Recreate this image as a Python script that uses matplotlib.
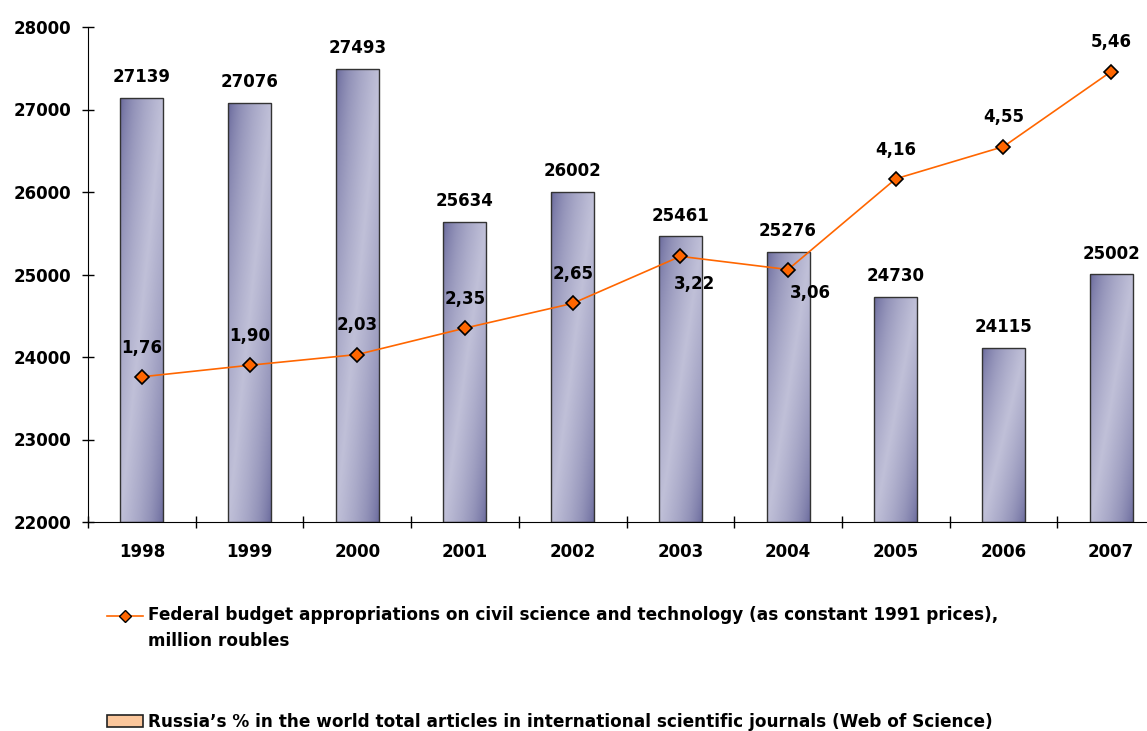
import numpy as np
import matplotlib
matplotlib.use("Agg")
import matplotlib.pyplot as plt
from matplotlib.lines import Line2D
from matplotlib.patches import Patch
from matplotlib.legend_handler import HandlerLine2D
from matplotlib.transforms import Affine2D

years = ["1998", "1999", "2000", "2001", "2002", "2003", "2004", "2005", "2006", "2007"]
budget = [27139, 27076, 27493, 25634, 26002, 25461, 25276, 24730, 24115, 25002]
share = [1.76, 1.90, 2.03, 2.35, 2.65, 3.22, 3.06, 4.16, 4.55, 5.46]
yticks = [22000, 23000, 24000, 25000, 26000, 27000, 28000]

line_label = ("Federal budget appropriations on civil science and technology (as constant 1991 prices),\n"
              "million roubles")
bar_label = "Russia\u2019s % in the world total articles in international scientific journals (Web of Science)"

plt.rcParams["font.family"] = ["DejaVu Sans"]
plt.rcParams["font.weight"] = "bold"

W, H = 1147, 731
fig = plt.figure(figsize=(W / 100, H / 100), dpi=100)
ax = fig.add_axes([88 / W, 1 - 522 / H, 1077 / W, 495 / H])

x = np.arange(len(years))
bw = 0.40
ymin, ymax = 22000, 28000

# diagonal gradient for bars: dark corners, light band along anti-diagonal
dark = np.array([0x5e, 0x5e, 0x94]) / 255
light = np.array([0xc0, 0xc0, 0xd8]) / 255
nr, nc = 200, 40
u = np.linspace(0, 1, nc)[None, :]
v = np.linspace(0, 1, nr)[:, None]
t = (u + v) / 2
f = (1 - np.abs(2 * t - 1)) ** 0.55
grad = dark + (light - dark) * f[..., None]

bars = ax.bar(x, [b - ymin for b in budget], bw, bottom=ymin,
              facecolor="none", edgecolor="#333333", linewidth=1, zorder=3)
for xi, b, bar in zip(x, budget, bars):
    im = ax.imshow(grad, extent=(xi - bw / 2, xi + bw / 2, ymin, b),
                   aspect="auto", origin="upper", zorder=2)
    im.set_clip_path(bar)
    ax.annotate(str(b), (xi, b), xytext=(0, 15), textcoords="offset points",
                ha="center", va="center", fontsize=12, fontweight="bold")

ax.set_xlim(-0.5, 9.5)
ax.set_ylim(ymin, ymax)
ax.set_yticks(yticks)
ax.set_yticklabels([str(t) for t in yticks])
ax.set_xticks(x)
ax.set_xticklabels(years)
ax.set_xticks(np.arange(-0.5, 10, 1), minor=True)
ax.tick_params(axis="x", which="major", length=0, pad=15, labelsize=12)
ax.tick_params(axis="x", which="minor", direction="inout", length=8, width=1)
ax.tick_params(axis="y", direction="inout", length=8, width=1, pad=8, labelsize=12)
for lab in ax.get_xticklabels() + ax.get_yticklabels():
    lab.set_fontweight("bold")
for s in ["top", "right"]:
    ax.spines[s].set_visible(False)

ax2 = ax.twinx()
ax2.set_ylim(0, 6)
ax2.set_axis_off()
ax2.plot(x, share, color="#ff6600", linewidth=1.2, marker="D", markersize=7,
         markerfacecolor="#ff6600", markeredgecolor="black", markeredgewidth=1.2, zorder=5)
offsets = {5: (10, -20), 6: (16, -17)}
for i, (xi, s) in enumerate(zip(x, share)):
    dx, dy = offsets.get(i, (0, 21))
    ax2.annotate(f"{s:.2f}".replace(".", ","), (xi, s), xytext=(dx, dy),
                 textcoords="offset points", ha="center", va="center",
                 fontsize=12, fontweight="bold")


class FirstLineHandler(HandlerLine2D):
    # put the handle beside the first line of a two-line label
    def create_artists(self, legend, orig_handle, xdescent, ydescent, width, height,
                       fontsize, trans):
        shifted = Affine2D().translate(0, 9.5) + trans
        return super().create_artists(legend, orig_handle, xdescent, ydescent, width,
                                      height, fontsize, shifted)


fs_leg = 12.2
h1 = Line2D([], [], color="#ff6600", linewidth=1.2, marker="D", markersize=6,
            markerfacecolor="#ff6600", markeredgecolor="black", markeredgewidth=1)
leg1 = fig.legend([h1], [line_label], loc="upper left", bbox_to_anchor=(107 / W, 1 - 606 / H),
                  frameon=False, borderpad=0, borderaxespad=0, handlelength=2.13,
                  handletextpad=0.3, prop={"size": fs_leg, "weight": "bold"},
                  handler_map={Line2D: FirstLineHandler()})
leg1.get_texts()[0].set_linespacing(1.55)
h2 = Patch(facecolor="#fbc79c", edgecolor="#222222", linewidth=1.2)
fig.legend([h2], [bar_label], loc="upper left", bbox_to_anchor=(107 / W, 1 - 713 / H),
           frameon=False, borderpad=0, borderaxespad=0, handlelength=2.13, handleheight=0.71,
           handletextpad=0.3, prop={"size": fs_leg, "weight": "bold"})

fig.savefig("out.png", dpi=100)
